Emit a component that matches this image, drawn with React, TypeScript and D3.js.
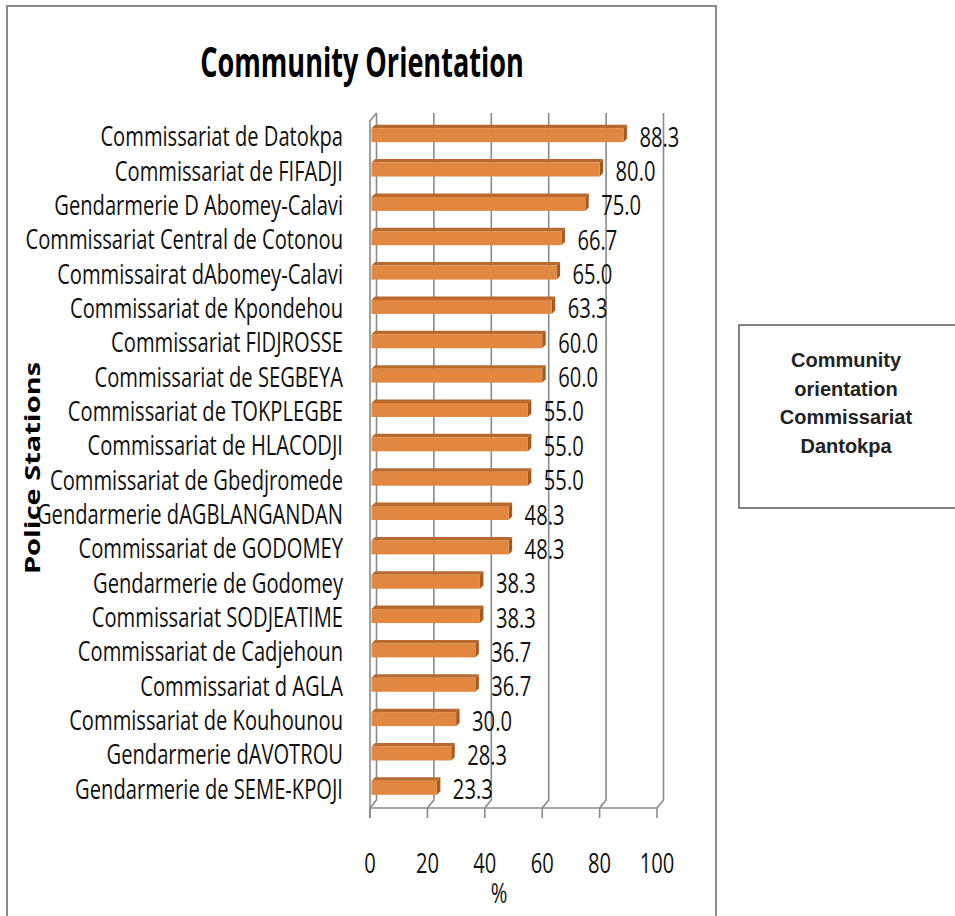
import React from "react";
import * as d3 from "d3";

const categories = [
  "Commissariat de Datokpa",
  "Commissariat de FIFADJI",
  "Gendarmerie D Abomey-Calavi",
  "Commissariat Central de Cotonou",
  "Commissairat dAbomey-Calavi",
  "Commissariat de Kpondehou",
  "Commissariat FIDJROSSE",
  "Commissariat de SEGBEYA",
  "Commissariat de TOKPLEGBE",
  "Commissariat de HLACODJI",
  "Commissariat de Gbedjromede",
  "Gendarmerie dAGBLANGANDAN",
  "Commissariat de GODOMEY",
  "Gendarmerie de Godomey",
  "Commissariat SODJEATIME",
  "Commissariat de Cadjehoun",
  "Commissariat d AGLA",
  "Commissariat de Kouhounou",
  "Gendarmerie dAVOTROU",
  "Gendarmerie de SEME-KPOJI",
];
const values = [88.3, 80.0, 75.0, 66.7, 65.0, 63.3, 60.0, 60.0, 55.0, 55.0, 55.0, 48.3, 48.3, 38.3, 38.3, 36.7, 36.7, 30.0, 28.3, 23.3];
const ticks = [0, 20, 40, 60, 80, 100];
const title = "Community Orientation";
const yTitle = "Police Stations";
const xTitle = "%";
const noteLines = ["Community", "orientation", "Commissariat", "Dantokpa"];

const W = 955;
const H = 916;
const SX = 0.72;
const FONT = "'Open Sans', sans-serif";

export default function App() {
  const x = d3.scaleLinear().domain([0, 100]).range([370, 657]);
  const y = d3.scaleBand<string>().domain(categories).range([118, 805]).paddingInner(0).paddingOuter(0);
  const dx = 6.5;
  const dy = 8;
  const wallTop = 113;
  const floorFront = 808;
  const grid = "#8a8a8a";
  const bh = 14;
  const bd = 3.5;

  return (
    <svg width={W} height={H} style={{ position: "absolute", left: 0, top: 0, background: "#fff" }}>
      {/* chart frame */}
      <rect x={7} y={6} width={709} height={1000} fill="#fff" stroke="#8c8c8c" strokeWidth={2} />

      {/* title */}
      <text
        transform={`translate(362,77) scale(0.66,1)`}
        textAnchor="middle"
        fontFamily={FONT}
        fontWeight="bold"
        fontSize={41}
        fill="#000"
      >
        {title}
      </text>

      {/* back wall gridlines */}
      {ticks.map((t) => (
        <path
          key={"g" + t}
          d={`M${x(t) + dx},${wallTop} L${x(t) + dx},${floorFront - dy} L${x(t)},${floorFront}`}
          fill="none"
          stroke={grid}
          strokeWidth={1.6}
        />
      ))}
      {/* left side wall */}
      <path
        d={`M${x(0)},${floorFront + 10} L${x(0)},${wallTop + dy} L${x(0) + dx},${wallTop}`}
        fill="none"
        stroke={grid}
        strokeWidth={1.6}
      />
      {/* floor front axis */}
      <line x1={x(0)} x2={x(100)} y1={floorFront} y2={floorFront} stroke={grid} strokeWidth={1.6} />
      {ticks.map((t) => (
        <line key={"t" + t} x1={x(t)} x2={x(t)} y1={floorFront} y2={floorFront + 10} stroke={grid} strokeWidth={1.6} />
      ))}

      {/* bars */}
      {categories.map((c, i) => {
        const cy = (y(c) as number) + y.bandwidth() / 2;
        const x0 = x(0) + 1.5;
        const x1 = x(values[i]);
        const top = cy - bh / 2;
        const bot = cy + bh / 2;
        return (
          <g key={c}>
            <path d={`M${x0},${top} L${x0 + bd},${top - bd} L${x1 + bd},${top - bd} L${x1},${top} Z`} fill="#b8692e" />
            <path d={`M${x1},${top} L${x1 + bd},${top - bd} L${x1 + bd},${bot - bd} L${x1},${bot} Z`} fill="#a35a25" />
            <rect x={x0} y={top} width={x1 - x0} height={bh} fill="#e1873f" />
          </g>
        );
      })}

      {/* value labels */}
      {categories.map((c, i) => {
        const cy = (y(c) as number) + y.bandwidth() / 2;
        return (
          <text
            key={"v" + c}
            transform={`translate(${x(values[i]) + 16},${cy + 11.5}) scale(${SX},1)`}
            fontFamily={FONT}
            fontSize={28}
            fill="#111"
          >
            {values[i].toFixed(1)}
          </text>
        );
      })}

      {/* category labels */}
      {categories.map((c) => {
        const cy = (y(c) as number) + y.bandwidth() / 2;
        return (
          <text
            key={"c" + c}
            transform={`translate(343,${cy + 11}) scale(${SX},1)`}
            textAnchor="end"
            fontFamily={FONT}
            fontSize={28}
            fill="#111"
          >
            {c}
          </text>
        );
      })}

      {/* tick labels */}
      {ticks.map((t) => (
        <text
          key={"tl" + t}
          transform={`translate(${x(t)},873) scale(${SX},1)`}
          textAnchor="middle"
          fontFamily={FONT}
          fontSize={28}
          fill="#111"
        >
          {t}
        </text>
      ))}
      <text transform={`translate(499,903) scale(${SX},1)`} textAnchor="middle" fontFamily={FONT} fontSize={28} fill="#111">
        {xTitle}
      </text>

      {/* y title */}
      <text
        transform={`translate(40,468) rotate(-90) scale(1,0.72)`}
        textAnchor="middle"
        fontFamily={FONT}
        fontWeight="bold"
        fontSize={29}
        fill="#000"
      >
        {yTitle}
      </text>

      {/* side note box */}
      <rect x={739} y={325} width={230} height={183} fill="#fff" stroke="#333" strokeWidth={1.2} />
      {noteLines.map((l, i) => (
        <text
          key={l}
          x={846}
          y={367 + i * 28.5}
          textAnchor="middle"
          fontFamily="'Liberation Sans', Arial, sans-serif"
          fontWeight="bold"
          fontSize={20}
          fill="#222"
        >
          {l}
        </text>
      ))}
    </svg>
  );
}
